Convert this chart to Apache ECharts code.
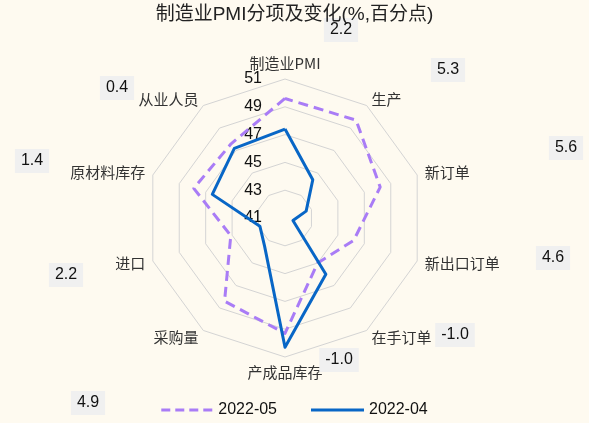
<!DOCTYPE html>
<html>
<head>
<meta charset="utf-8">
<script src="https://cdn.jsdelivr.net/npm/echarts@6/dist/echarts.min.js"></script>
<style>
  html, body { margin: 0; padding: 0; background: #fefaf0; }
  #chart { width: 589px; height: 423px; }
</style>
</head>
<body>
<div id="chart"></div>
<script>
// 指标名称(顺时针)
const indicators = ['制造业PMI', '生产', '新订单', '新出口订单', '在手订单', '产成品库存', '采购量', '进口', '原材料库存', '从业人员']
// 两期数值
const may2022 = [49.6, 49.7, 48.2, 46.2, 45.0, 49.3, 48.4, 45.1, 47.9, 47.6]
const apr2022 = [47.4, 44.4, 42.6, 41.6, 46.0, 50.3, 43.5, 42.9, 46.5, 47.2]
// 变化(百分点)
const changes = ['2.2', '5.3', '5.6', '4.6', '-1.0', '-1.0', '4.9', '2.2', '1.4', '0.4']
// 变化标签的位置
const changePos = [[341, 30], [448, 70], [566, 148], [553, 258], [455, 335], [339, 360], [88, 403], [66, 275], [32, 161], [117, 88]]

const axisMin = 41
const axisMax = 51

// echarts 雷达图是逆时针排列，这里把顺序翻一下
const order = [0].concat(indicators.map((_, i) => i).slice(1).reverse())
const pick = arr => order.map(i => arr[i])

const chart = echarts.init(document.getElementById('chart'))

chart.setOption({
  backgroundColor: '#fefaf0',
  title: {
    text: '制造业PMI分项及变化(%,百分点)',
    left: 'center',
    top: 0,
    z: 20,
    textStyle: { fontSize: 19, fontWeight: 'normal', color: '#222', fontFamily: 'Liberation Sans, Noto Sans CJK SC' }
  },
  legend: {
    bottom: 0,
    left: 'center',
    itemWidth: 53,
    itemHeight: 3,
    itemGap: 34,
    textStyle: { fontSize: 16, color: '#111', fontFamily: 'Liberation Sans' },
    data: [
      { name: '2022-05', icon: 'path://M0,0h9v3h-9z M14,0h9v3h-9z M28,0h9v3h-9z M42,0h9v3h-9z' },
      { name: '2022-04', icon: 'path://M0,0h53v3h-53z' }
    ]
  },
  radar: {
    center: [285, 218],
    radius: 139,
    shape: 'polygon',
    splitNumber: 5,
    startAngle: 90,
    nameGap: 8,
    axisName: { color: '#333', fontSize: 15, fontFamily: 'Noto Sans CJK SC' },
    axisLine: { show: false },
    axisTick: { show: false },
    splitArea: { show: false },
    splitLine: { lineStyle: { color: '#d4d4d4', width: 1 } },
    axisLabel: { show: false },
    indicator: pick(indicators).map((name, i) => ({
      name,
      min: axisMin,
      max: axisMax,
      axisLabel: i === 0
        ? { show: true, color: '#111', fontSize: 16, margin: 23, fontFamily: 'Liberation Sans' }
        : { show: false }
    }))
  },
  series: [{
    type: 'radar',
    symbol: 'none',
    data: [
      {
        name: '2022-05',
        value: pick(may2022),
        lineStyle: { color: '#a97cf6', width: 3, type: [10, 6] },
        itemStyle: { color: '#a97cf6' }
      },
      {
        name: '2022-04',
        value: pick(apr2022),
        lineStyle: { color: '#0866c6', width: 3, type: 'solid' },
        itemStyle: { color: '#0866c6' }
      }
    ]
  }],
  graphic: changes.map((t, i) => ({
    type: 'text',
    x: changePos[i][0],
    y: changePos[i][1],
    z: 1,
    style: {
      text: t,
      align: 'center',
      verticalAlign: 'middle',
      fontSize: 16,
      fontFamily: 'Liberation Sans',
      fill: '#111',
      backgroundColor: '#f0f0f0',
      padding: [4, 6]
    }
  }))
})
</script>
</body>
</html>
